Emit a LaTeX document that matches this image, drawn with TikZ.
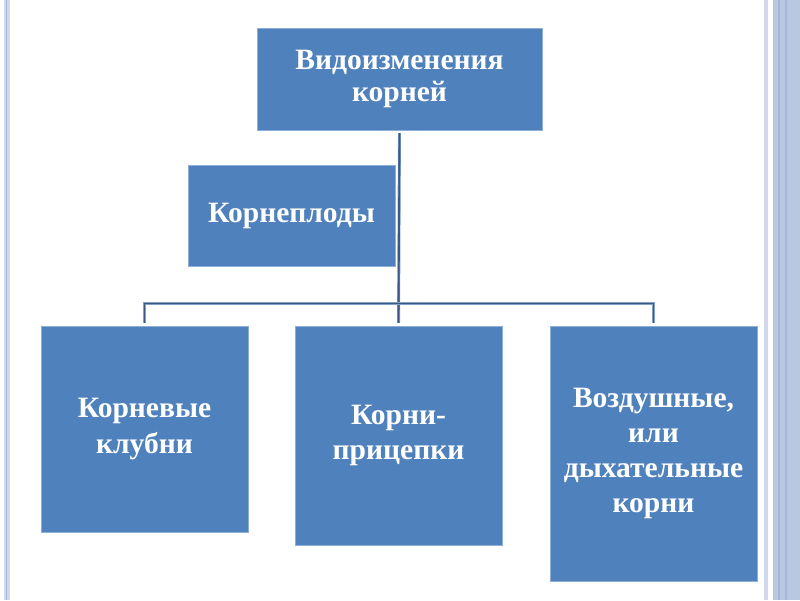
\documentclass[tikz,border=0pt]{standalone}
\usepackage{fontspec}
\setmainfont{Liberation Serif}
\usetikzlibrary{positioning}
\definecolor{boxfill}{RGB}{79,129,189}
\definecolor{boxedge}{RGB}{140,175,215}
\definecolor{linkcolor}{RGB}{58,88,132}
\definecolor{linkedge}{RGB}{130,160,200}
\definecolor{framelight}{RGB}{208,217,235}
\definecolor{framedark}{RGB}{165,182,214}
\definecolor{frameband}{RGB}{186,199,224}
\tikzset{
  unitbox/.style={fill=boxfill, draw=boxedge, line width=0.5pt, text=white,
    font=\fontsize{21}{25}\selectfont\bfseries, align=center, inner sep=0pt},
  link/.style={draw=linkedge, line width=0.4pt, double=linkcolor, double distance=1.3pt}
}
\begin{document}
\begin{tikzpicture}[x=0.025cm, y=-0.025cm]
  \useasboundingbox (0,0) rectangle (800,600);
  % Slide frame
  \fill[white] (0,0) rectangle (800,600);
  \fill[framelight] (3.5,0) rectangle (9.5,600);
  \draw[framedark, line width=0.8pt] (6.5,0) -- (6.5,600);
  \fill[framelight] (764,0) rectangle (768,600);
  \fill[frameband] (773,0) rectangle (800,600);
  \draw[framedark, line width=1pt] (779,0) -- (779,600);
  \draw[framedark, line width=0.8pt] (786,0) -- (786,600);
  % Top box
  \node[unitbox, minimum width=7.125cm, minimum height=2.55cm,
    font=\fontsize{21}{23}\selectfont\bfseries] (root) at (399.5,79)
    {Видоизменения\\корней};
  % Side box
  \node[unitbox, minimum width=5.175cm, minimum height=2.525cm] (crops) at (291.5,215.5)
    {Корнеплоды};
  % Bottom row
  \node[unitbox, minimum width=5.175cm, minimum height=5.15cm] (tubers) at (144.5,429)
    {Корневые\\клубни};
  \node[unitbox, minimum width=5.175cm, minimum height=5.475cm] (climbers) at (398.5,435.5)
    {Корни-\\прицепки};
  \node[unitbox, minimum width=5.175cm, minimum height=6.375cm] (aerial) at (653.5,453.5)
    {Воздушные,\\или\\дыхательные\\корни};
  % Connectors
  \coordinate (bar) at (0,303.5);
  \draw[link, shorten <=2pt, shorten >=2pt] (root.south) -- (climbers.north);
  \draw[link, shorten <=2pt, shorten >=2pt] (tubers.north) -- (tubers.north |- bar)
    -- (aerial.north |- bar) -- (aerial.north);
\end{tikzpicture}
\end{document}
